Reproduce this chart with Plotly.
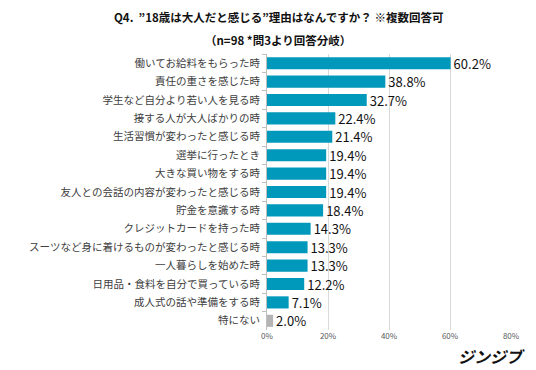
import plotly.graph_objects as go

categories = ["働いてお給料をもらった時", "責任の重さを感じた時", "学生など自分より若い人を見る時",
              "接する人が大人ばかりの時", "生活習慣が変わったと感じる時", "選挙に行ったとき",
              "大きな買い物をする時", "友人との会話の内容が変わったと感じる時", "貯金を意識する時",
              "クレジットカードを持った時", "スーツなど身に着けるものが変わったと感じる時",
              "一人暮らしを始めた時", "日用品・食料を自分で買っている時", "成人式の話や準備をする時", "特にない"]
values = [60.2, 38.8, 32.7, 22.4, 21.4, 19.4, 19.4, 19.4, 18.4, 14.3, 13.3, 13.3, 12.2, 7.1, 2.0]
x_ticks = [0, 20, 40, 60, 80]
x_tick_labels = ["0%", "20%", "40%", "60%", "80%"]

colors = ["#0099BB"] * (len(values) - 1) + ["#B4B4B4"]
FONT = "Noto Sans CJK JP"

fig = go.Figure(go.Bar(
    y=categories, x=values, orientation="h",
    marker=dict(color=colors, line=dict(width=0)),
    width=0.66,
    text=[f"{v:.1f}%" for v in values], textposition="outside",
    textfont=dict(family=FONT, size=13, color="#111111"),
    constraintext="none",
    cliponaxis=False,
))

fig.update_layout(
    width=536, height=370,
    margin=dict(l=267, r=25, t=54, b=40),
    paper_bgcolor="white", plot_bgcolor="white",
    showlegend=False,
    font=dict(family=FONT),
)
fig.update_xaxes(range=[0, 80], tickvals=x_ticks, ticktext=x_tick_labels, automargin=False,
                 showgrid=True, gridcolor="#D9D9D9", gridwidth=1, zeroline=False,
                 tickfont=dict(size=8, color="#595959", family=FONT), ticks="", ticklen=0)
fig.update_yaxes(autorange="reversed", showline=True, linecolor="#BFBFBF", linewidth=1, automargin=False,
                 ticks="outside", ticklen=4, tickcolor="#BFBFBF", tickson="boundaries",
                 tickfont=dict(size=10.5, color="#404040", family=FONT), ticklabelstandoff=4)

fig.add_annotation(text="<b>Q4.  ”18歳は大人だと感じる”理由はなんですか？ ※複数回答可</b>",
                   xref="paper", yref="paper", x=(278 - 267) / 244, y=1, yshift=37, yanchor="middle",
                   showarrow=False, font=dict(size=11.5, color="#111111", family=FONT), xanchor="center")
fig.add_annotation(text="<b>（n=98 *問3より回答分岐）</b>",
                   xref="paper", yref="paper", x=(278 - 267) / 244, y=1, yshift=14, yanchor="middle",
                   showarrow=False, font=dict(size=11.5, color="#111111", family=FONT), xanchor="center")
fig.add_annotation(text="<b><i>ジンジブ</i></b>", xref="paper", yref="paper", x=1.065, y=0,
                   yshift=-26, xanchor="right", yanchor="middle", showarrow=False,
                   font=dict(size=16, color="#111111", family=FONT))

fig.write_html("out.html", config={"displayModeBar": False},
               post_script="document.body.style.margin='0';")
